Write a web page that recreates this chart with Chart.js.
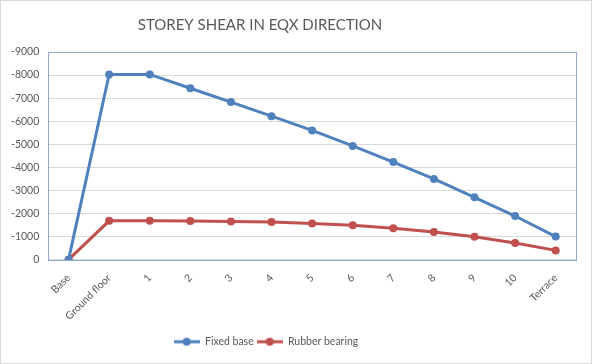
<!DOCTYPE html>
<html>
<head>
<meta charset="utf-8">
<script src="https://cdn.jsdelivr.net/npm/chart.js"></script>
<style>
  html, body { margin: 0; padding: 0; background: #fff; }
  #wrap { width: 590px; height: 362px; border: 1px solid #d9d9d9; position: relative; }
</style>
</head>
<body>
<div id="wrap"><canvas id="chart" width="590" height="362"></canvas></div>
<script>
/* storey shear, EQX direction — fixed base vs rubber bearing */

const floors = ['Base', 'Ground floor', '1', '2', '3', '4', '5', '6', '7', '8', '9', '10', 'Terrace'];
const fixedBase = [0, -8030, -8030, -7430, -6830, -6220, -5600, -4930, -4230, -3500, -2700, -1890, -1000];
const rubberBearing = [0, -1680, -1680, -1670, -1650, -1630, -1570, -1490, -1360, -1200, -990, -720, -400];
const yTicks = [0, -1000, -2000, -3000, -4000, -5000, -6000, -7000, -8000, -9000];

const textColor = '#595959';
const fontFamily = 'Lato, "Open Sans", sans-serif';

// legend sample: short line with a dot in the middle, like the Excel legend
function legendIcon(color) {
  const c = document.createElement('canvas');
  c.width = 26; c.height = 10;
  const g = c.getContext('2d');
  g.strokeStyle = color;
  g.lineWidth = 3;
  g.beginPath(); g.moveTo(0, 5); g.lineTo(26, 5); g.stroke();
  g.fillStyle = color;
  g.beginPath(); g.arc(13, 5, 4, 0, Math.PI * 2); g.fill();
  return c;
}

const plotBorder = {
  id: 'plotBorder',
  afterDraw(chart) {
    const { ctx, chartArea: a } = chart;
    ctx.save();
    ctx.strokeStyle = '#8eaacc';
    ctx.lineWidth = 1;
    ctx.strokeRect(Math.round(a.left) + 0.5, Math.round(a.top) + 0.5, Math.round(a.right - a.left), Math.round(a.bottom - a.top));
    ctx.restore();
  }
};

// the original has title + legend sitting left of centre
const shiftBlocks = {
  id: 'shiftBlocks',
  afterLayout(chart) {
    const moves = [[chart.titleBlock, -29], [chart.legend, -23]];
    moves.forEach(([b, dx]) => { if (b) { b.left += dx; b.right += dx; } });
  }
};

const series = [
  { label: 'Fixed base', data: fixedBase, color: '#4f81bd' },
  { label: 'Rubber bearing', data: rubberBearing, color: '#c0504d' }
];

new Chart(document.getElementById('chart'), {
  type: 'line',
  data: {
    labels: floors,
    datasets: series.map(s => ({
      label: s.label,
      data: s.data,
      borderColor: s.color,
      backgroundColor: s.color,
      borderWidth: 3,
      pointRadius: 4,
      pointHoverRadius: 4,
      pointBorderWidth: 0,
      tension: 0,
      pointStyle: 'circle'
    }))
  },
  options: {
    responsive: false,
    animation: false,
    devicePixelRatio: 1,
    layout: { padding: { left: 1, right: 15, top: 2, bottom: 6 } },
    plugins: {
      title: {
        display: true,
        text: 'STOREY SHEAR IN EQX DIRECTION',
        color: textColor,
        font: { family: fontFamily, size: 15, weight: 'normal' },
        padding: { top: 13, bottom: 18 }
      },
      legend: {
        position: 'bottom',
        labels: {
          color: textColor,
          font: { family: fontFamily, size: 10.5 },
          usePointStyle: true,
          pointStyleWidth: 26,
          boxHeight: 10,
          padding: 3,
          generateLabels: chart => chart.data.datasets.map((d, i) => ({
            text: d.label,
            pointStyle: legendIcon(d.borderColor),
            fontColor: textColor,
            datasetIndex: i,
            hidden: false,
            lineWidth: 0
          }))
        }
      },
      tooltip: { enabled: false }
    },
    scales: {
      x: {
        offset: true,
        grid: { display: false },
        border: { display: false },
        ticks: {
          color: textColor,
          font: { family: fontFamily, size: 10.5 },
          minRotation: 45,
          maxRotation: 45,
          padding: 4
        },
        afterFit: axis => { axis.height += 7; }
      },
      y: {
        reverse: true,
        min: -9000,
        max: 0,
        afterBuildTicks: axis => { axis.ticks = yTicks.map(v => ({ value: v })); },
        grid: { color: '#d9d9d9', drawTicks: false },
        border: { display: false },
        ticks: {
          color: textColor,
          font: { family: fontFamily, size: 10.5 },
          padding: 9,
          callback: v => String(v)
        }
      }
    }
  },
  plugins: [plotBorder, shiftBlocks]
});
</script>
</body>
</html>
